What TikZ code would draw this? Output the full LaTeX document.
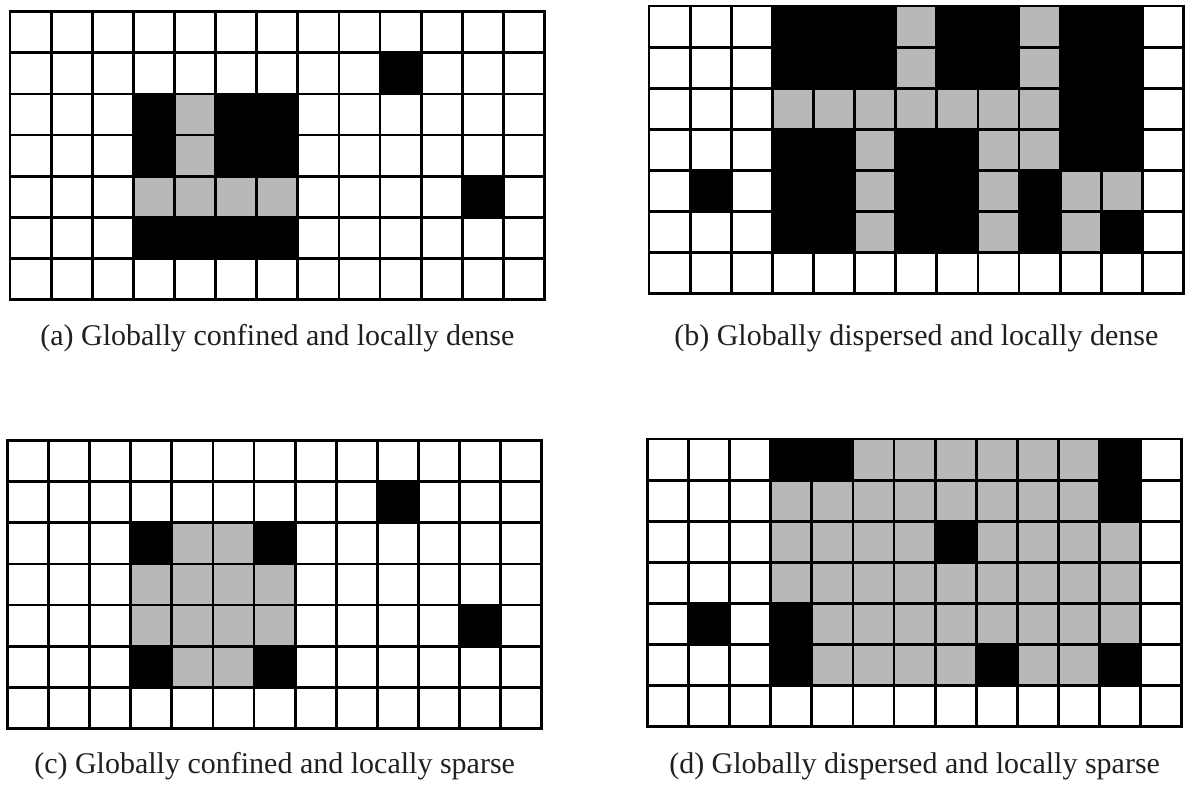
\documentclass[tikz,border=0pt]{standalone}
\usepackage{fontspec}
\setmainfont{Liberation Serif}
\definecolor{cellgray}{RGB}{183,184,186}
\definecolor{cellblack}{RGB}{0,0,0}
\definecolor{captext}{RGB}{35,31,32}
\tikzset{
  gridline/.style={line width=2.8pt, draw=black},
  blackcell/.style={fill=cellblack},
  graycell/.style={fill=cellgray},
  captionlabel/.style={anchor=base, font=\fontsize{30}{36}\selectfont, text=captext, inner sep=0pt}
}
\newcommand{\cellgrid}[4]{%
  \begin{scope}[shift={(#1,#2)}]
    \foreach \c/\r in {#3} {\fill[blackcell] (\c*41.12,\r*41.12) rectangle ++(41.12,41.12);}
    \foreach \c/\r in {#4} {\fill[graycell] (\c*41.12,\r*41.12) rectangle ++(41.12,41.12);}
    \foreach \i in {1,...,12} {\draw[gridline] (\i*41.12,0) -- (\i*41.12,287.84);}
    \foreach \j in {1,...,6} {\draw[gridline] (0,\j*41.12) -- (534.56,\j*41.12);}
    \draw[gridline] (0,0) rectangle (534.56,287.84);
  \end{scope}
}
\begin{document}
\begin{tikzpicture}[x=1pt,y=-1pt]
\useasboundingbox[fill=white] (0,0) rectangle (1185,787);
% (a)
\cellgrid{10}{11.7}{9/1,3/2,5/2,6/2,3/3,5/3,6/3,11/4,3/5,4/5,5/5,6/5}{4/2,4/3,3/4,4/4,5/4,6/4}
% (b)
\cellgrid{649}{6}{3/0,4/0,5/0,7/0,8/0,10/0,11/0,3/1,4/1,5/1,7/1,8/1,10/1,11/1,10/2,11/2,3/3,4/3,6/3,7/3,10/3,11/3,1/4,3/4,4/4,6/4,7/4,9/4,3/5,4/5,6/5,7/5,9/5,11/5}{6/0,9/0,6/1,9/1,3/2,4/2,5/2,6/2,7/2,8/2,9/2,5/3,8/3,9/3,5/4,8/4,10/4,11/4,5/5,8/5,10/5}
% (c)
\cellgrid{7.3}{440.6}{9/1,3/2,6/2,11/4,3/5,6/5}{4/2,5/2,3/3,4/3,5/3,6/3,3/4,4/4,5/4,6/4,4/5,5/5}
% (d)
\cellgrid{647.3}{439}{3/0,4/0,11/0,11/1,7/2,1/4,3/4,3/5,8/5,11/5}{5/0,6/0,7/0,8/0,9/0,10/0,3/1,4/1,5/1,6/1,7/1,8/1,9/1,10/1,3/2,4/2,5/2,6/2,8/2,9/2,10/2,11/2,3/3,4/3,5/3,6/3,7/3,8/3,9/3,10/3,11/3,4/4,5/4,6/4,7/4,8/4,9/4,10/4,11/4,4/5,5/5,6/5,7/5,9/5,10/5}
\node[captionlabel] (capa) at (277.3,345) {(a) Globally confined and locally dense};
\node[captionlabel] (capb) at (916.3,345) {(b) Globally dispersed and locally dense};
\node[captionlabel] (capc) at (274.6,773) {(c) Globally confined and locally sparse};
\node[captionlabel] (capd) at (914.6,773) {(d) Globally dispersed and locally sparse};
\end{tikzpicture}
\end{document}
